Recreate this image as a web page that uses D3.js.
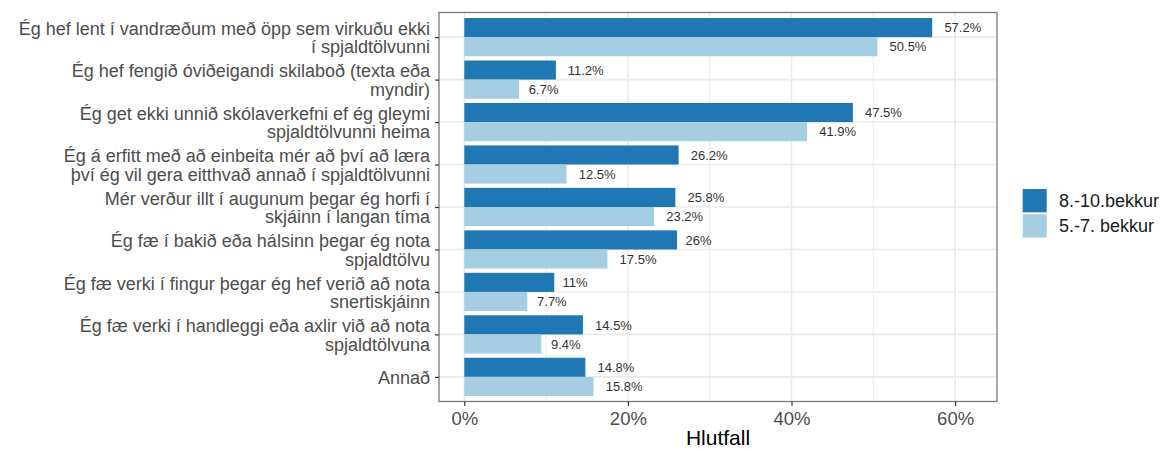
<!DOCTYPE html>
<meta charset="utf-8">
<script src="https://d3js.org/d3.v7.min.js"></script>
<style>
  body { margin: 0; background: #fff; }
  text { font-family: "Liberation Sans", Arial, sans-serif; }
</style>

<div id="page"></div>

<script>

  // Data
  var categories = [
    "Ég hef lent í vandræðum með öpp sem virkuðu ekki\ní spjaldtölvunni",
    "Ég hef fengið óviðeigandi skilaboð (texta eða\nmyndir)",
    "Ég get ekki unnið skólaverkefni ef ég gleymi\nspjaldtölvunni heima",
    "Ég á erfitt með að einbeita mér að því að læra\nþví ég vil gera eitthvað annað í spjaldtölvunni",
    "Mér verður illt í augunum þegar ég horfi í\nskjáinn í langan tíma",
    "Ég fæ í bakið eða hálsinn þegar ég nota\nspjaldtölvu",
    "Ég fæ verki í fingur þegar ég hef verið að nota\nsnertiskjáinn",
    "Ég fæ verki í handleggi eða axlir við að nota\nspjaldtölvuna",
    "Annað"
  ];
  var seriesNames = ["8.-10.bekkur", "5.-7. bekkur"];
  var older = [57.2, 11.2, 47.5, 26.2, 25.8, 26, 11, 14.5, 14.8];
  var younger = [50.5, 6.7, 41.9, 12.5, 23.2, 17.5, 7.7, 9.4, 15.8];
  var xTicks = [0, 20, 40, 60];
  var xMinor = [10, 30, 50];
  var colors = ["#1F78B4", "#A6CEE3"];

  var W = 1164, H = 450;
  var panel = { left: 439, right: 997, top: 12.5, bottom: 401.5 };

  var svg = d3.select("#page")
    .append("svg")
    .attr("width", W)
    .attr("height", H);

  // Scales
  var x = d3.scaleLinear()
    .domain([-3.09, 65.12])
    .range([panel.left, panel.right]);

  var y = d3.scalePoint()
    .domain(categories)
    .range([panel.top, panel.bottom])
    .padding(0.58);

  var half = y.step() * 0.45;

  // Grid
  var grid = svg.append("g");
  grid.selectAll(".minor").data(xMinor).enter().append("line")
    .attr("x1", d => x(d)).attr("x2", d => x(d))
    .attr("y1", panel.top).attr("y2", panel.bottom)
    .attr("stroke", "#EBEBEB").attr("stroke-width", 1);
  grid.selectAll(".major").data(xTicks).enter().append("line")
    .attr("x1", d => x(d)).attr("x2", d => x(d))
    .attr("y1", panel.top).attr("y2", panel.bottom)
    .attr("stroke", "#EBEBEB").attr("stroke-width", 1.6);
  grid.selectAll(".hmajor").data(categories).enter().append("line")
    .attr("x1", panel.left).attr("x2", panel.right)
    .attr("y1", d => y(d)).attr("y2", d => y(d))
    .attr("stroke", "#EBEBEB").attr("stroke-width", 1.6);

  // Bars
  var rows = [];
  categories.forEach(function (c, i) {
    rows.push({ cat: c, v: older[i], s: 0 });
    rows.push({ cat: c, v: younger[i], s: 1 });
  });

  svg.selectAll("rect.bar")
    .data(rows)
    .enter()
    .append("rect")
    .attr("class", "bar")
    .attr("x", x(0))
    .attr("y", d => d.s === 0 ? y(d.cat) - half : y(d.cat))
    .attr("width", d => x(d.v) - x(0))
    .attr("height", half)
    .attr("fill", d => colors[d.s]);

  // Value labels (hjust about -0.33)
  svg.selectAll("text.val")
    .data(rows)
    .enter()
    .append("text")
    .attr("class", "val")
    .attr("y", d => (d.s === 0 ? y(d.cat) - half / 2 : y(d.cat) + half / 2))
    .attr("dy", "0.36em")
    .attr("font-size", "13px")
    .attr("fill", "#333")
    .text(d => d.v + "%")
    .attr("x", function (d) { return x(d.v) + 0.33 * this.getComputedTextLength(); });

  // Panel border
  svg.append("rect")
    .attr("x", panel.left).attr("y", panel.top)
    .attr("width", panel.right - panel.left)
    .attr("height", panel.bottom - panel.top)
    .attr("fill", "none")
    .attr("stroke", "#7a7a7a")
    .attr("stroke-width", 1.3);

  // x axis
  var xAxis = svg.append("g")
    .attr("transform", "translate(0," + panel.bottom + ")")
    .call(d3.axisBottom(x).tickValues(xTicks).tickFormat(d => d + "%").tickSize(4.5).tickPadding(5.7));
  xAxis.select(".domain").remove();
  xAxis.selectAll("line").attr("stroke", "#333").attr("stroke-width", 1.2);
  xAxis.selectAll("text")
    .attr("font-size", "18.5px")
    .attr("font-family", null)
    .attr("fill", "#4D4D4D");

  // y axis
  var yAxis = svg.append("g")
    .attr("transform", "translate(" + panel.left + ",0)")
    .call(d3.axisLeft(y).tickSize(4).tickPadding(5));
  yAxis.select(".domain").remove();
  yAxis.selectAll("line").attr("stroke", "#333").attr("stroke-width", 1.2);
  yAxis.selectAll("text")
    .attr("font-size", "18px")
    .attr("font-family", null)
    .attr("fill", "#4D4D4D")
    .attr("dy", null)
    .each(function (d) {
      var lines = d.split("\n");
      var t = d3.select(this).text("");
      var first = 6.5 - (lines.length - 1) * 9.25;
      lines.forEach(function (ln, k) {
        t.append("tspan")
          .attr("x", -9)
          .attr("y", first + k * 18.5)
          .text(ln);
      });
    });

  // Axis title
  svg.append("text")
    .attr("x", (panel.left + panel.right) / 2)
    .attr("y", 445)
    .attr("text-anchor", "middle")
    .attr("font-size", "21px")
    .attr("fill", "#000")
    .text("Hlutfall");

  // Legend
  var legend = svg.append("g");
  seriesNames.forEach(function (name, i) {
    var top = 189 + i * 25.3;
    legend.append("rect")
      .attr("x", 1022.7).attr("y", top)
      .attr("width", 24).attr("height", 23.3)
      .attr("fill", colors[i]);
    legend.append("text")
      .attr("x", 1059)
      .attr("y", top + 11.6)
      .attr("dy", "0.36em")
      .attr("font-size", "18px")
      .attr("fill", "#1a1a1a")
      .text(name);
  });

</script>
